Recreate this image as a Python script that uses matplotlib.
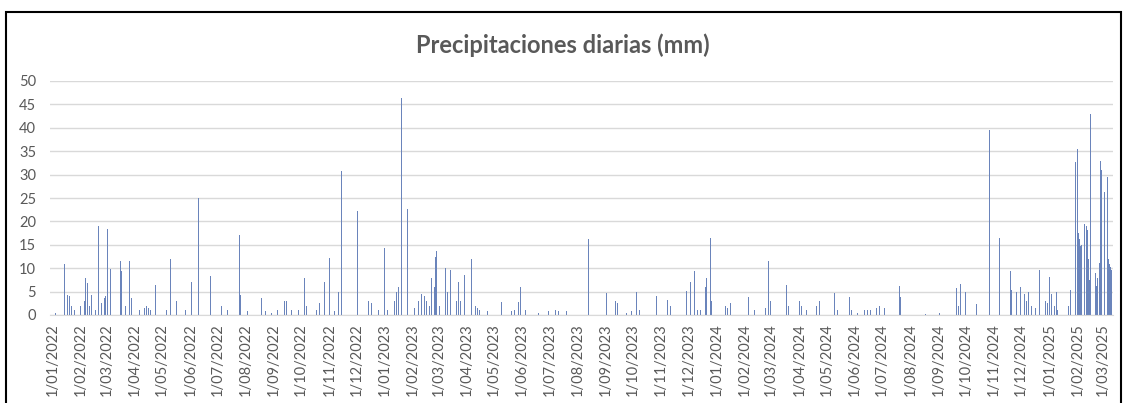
import pandas as pd
import matplotlib
matplotlib.use("Agg")
import matplotlib.pyplot as plt
import matplotlib.dates as mdates
from matplotlib.patches import Rectangle
from matplotlib.ticker import FuncFormatter

# Rainy days only (days since 1/01/2022 -> mm); other days are 0
start_date = "2022-01-01"
rain_day = [
    0, 3, 10, 13, 16, 18, 20, 22, 24, 30, 33, 35, 36, 38, 40, 42, 44, 47, 50, 53,
    55, 57, 58, 60, 63, 66, 74, 75, 77, 78, 80, 84, 86, 88, 95, 99, 101, 103, 105, 107,
    110, 113, 121, 125, 129, 133, 136, 143, 144, 146, 152, 160, 166, 173, 185, 188, 192, 205, 206, 210,
    214, 220, 229, 234, 240, 247, 253, 255, 257, 262, 265, 270, 277, 279, 287, 290, 293, 299, 304, 310,
    314, 317, 320, 335, 347, 350, 352, 353, 358, 365, 368, 374, 376, 378, 380, 383, 385, 390, 395, 398,
    402, 405, 407, 409, 411, 414, 416, 418, 420, 421, 422, 425, 428, 432, 434, 437, 439, 441, 444, 446,
    448, 450, 453, 460, 463, 465, 467, 469, 474, 478, 493, 504, 506, 508, 512, 514, 520, 534, 545, 549,
    553, 556, 565, 571, 589, 609, 619, 621, 631, 636, 642, 645, 660, 664, 670, 676, 679, 683, 694, 697,
    701, 703, 706, 709, 712, 716, 718, 719, 723, 724, 726, 737, 740, 742, 745, 760, 765, 772, 784, 787,
    789, 791, 807, 809, 813, 821, 823, 829, 840, 843, 846, 848, 860, 863, 876, 878, 885, 893, 896, 899,
    906, 909, 915, 931, 932, 960, 975, 994, 996, 998, 1002, 1004, 1016, 1030, 1033, 1035, 1041, 1053, 1054, 1057,
    1060, 1064, 1066, 1069, 1071, 1073, 1076, 1081, 1085, 1088, 1090, 1092, 1094, 1096, 1098, 1100, 1102, 1104, 1105, 1117,
    1119, 1121, 1123, 1125, 1127, 1128, 1129, 1130, 1131, 1134, 1135, 1137, 1138, 1139, 1140, 1141, 1143, 1144, 1145, 1147,
    1148, 1149, 1151, 1152, 1153, 1154, 1155, 1157, 1160, 1161, 1162, 1163, 1164,
]
rain_mm = [
    1.0, 0.5, 8.8, 10.9, 4.2, 4.0, 2.0, 1.5, 1.0, 2.0, 1.0, 3.0, 7.9, 6.8, 2.0, 4.2, 2.9, 1.0, 19.0, 2.5,
    7.2, 3.6, 4.0, 18.3, 9.8, 1.0, 11.6, 9.3, 5.4, 5.0, 2.0, 11.6, 3.6, 1.5, 1.0, 4.0, 1.5, 2.0, 1.5, 1.0,
    0.5, 6.5, 4.0, 1.0, 12.0, 11.0, 3.0, 9.0, 5.0, 1.0, 7.0, 25.1, 0.5, 8.4, 2.0, 2.0, 1.0, 17.2, 4.3, 1.0,
    0.8, 9.1, 3.6, 0.8, 0.5, 1.0, 4.3, 3.0, 3.0, 1.0, 5.4, 1.0, 7.9, 2.0, 18.8, 1.0, 2.5, 7.0, 12.2, 0.8,
    5.0, 30.7, 1.0, 22.3, 3.0, 2.5, 10.8, 2.5, 1.0, 14.4, 1.0, 5.4, 3.0, 5.0, 6.0, 46.3, 5.5, 22.6, 1.0, 1.5,
    3.0, 4.5, 4.8, 4.0, 3.0, 2.0, 8.0, 3.0, 6.0, 12.5, 13.6, 2.0, 1.0, 10.0, 5.0, 9.6, 11.0, 8.3, 3.0, 7.0,
    3.0, 9.0, 8.5, 12.0, 1.5, 2.0, 1.5, 1.0, 5.0, 0.8, 2.8, 0.8, 1.8, 1.0, 2.7, 6.0, 1.0, 0.5, 0.8, 0.8,
    1.0, 0.8, 0.8, 0.5, 16.2, 4.8, 2.9, 2.5, 0.5, 0.8, 5.0, 1.0, 1.8, 4.0, 1.5, 3.2, 2.0, 1.5, 2.2, 5.2,
    7.0, 2.0, 9.5, 1.0, 1.0, 5.5, 6.0, 7.8, 16.5, 3.0, 1.5, 1.0, 2.0, 1.5, 2.5, 4.8, 3.8, 1.0, 1.5, 11.5,
    3.0, 1.0, 6.5, 2.0, 6.8, 3.0, 2.0, 1.0, 2.0, 3.0, 3.2, 1.0, 4.8, 1.0, 3.8, 1.0, 0.5, 1.0, 1.0, 1.0,
    1.5, 2.0, 1.5, 6.3, 3.8, 0.3, 0.5, 5.8, 2.0, 6.6, 15.4, 5.0, 2.4, 39.5, 20.8, 7.5, 16.4, 9.5, 5.4, 5.4,
    5.0, 6.0, 5.0, 4.5, 3.0, 5.0, 2.0, 1.5, 9.7, 2.5, 3.0, 3.0, 2.5, 8.2, 4.5, 3.0, 2.0, 5.0, 1.0, 2.0,
    5.3, 3.5, 2.0, 32.7, 35.4, 17.6, 16.2, 14.7, 15.0, 36.8, 19.5, 19.0, 18.2, 12.0, 7.5, 43.0, 18.8, 11.2, 9.4, 9.0,
    6.2, 8.0, 11.1, 33.0, 31.0, 30.3, 23.4, 26.2, 29.5, 12.0, 11.0, 10.3, 9.6,
]

plt.rcParams["font.family"] = ["Lato", "DejaVu Sans"]
grey = "#595959"

t0 = pd.Timestamp(start_date)
dates = t0 + pd.to_timedelta(rain_day, unit="D")

fig = plt.figure(figsize=(11.26, 4.03), dpi=100)
ax = fig.add_axes([50 / 1126, 1 - 315 / 403, (1113 - 50) / 1126, (315 - 81) / 403])

ax.bar(dates, rain_mm, width=0.8, color="#6a84bb", linewidth=0)

ax.set_ylim(0, 50)
ax.set_yticks(range(0, 51, 5))
ax.set_xlim(t0 - pd.Timedelta(days=3.3), t0 + pd.Timedelta(days=1166))
ax.xaxis.set_major_locator(mdates.MonthLocator())
ax.xaxis.set_major_formatter(FuncFormatter(
    lambda x, pos: "{}/{}".format(mdates.num2date(x).day, mdates.num2date(x).strftime("%m/%Y"))))
ax.tick_params(axis="x", labelrotation=90, length=0, pad=6, labelsize=10.5, labelcolor=grey)
ax.tick_params(axis="y", length=0, pad=10, labelsize=10.5, labelcolor=grey)

ax.grid(axis="y", color="#d9d9d9", linewidth=1)
ax.set_axisbelow(True)
for s in ["top", "right", "left"]:
    ax.spines[s].set_visible(False)
ax.spines["bottom"].set_color("#d9d9d9")

fig.text(0.5, 1 - 45 / 403, "Precipitaciones diarias (mm)", ha="center", va="center",
         fontsize=17, fontweight="bold", color=grey)

# frame of the chart area
fig.patches.append(Rectangle((6 / 1126, -0.1), (1121 - 6) / 1126, 1.1 - 12 / 403,
                             transform=fig.transFigure, fill=False, edgecolor="black", linewidth=1.5))

fig.savefig("out.png", dpi=100)
